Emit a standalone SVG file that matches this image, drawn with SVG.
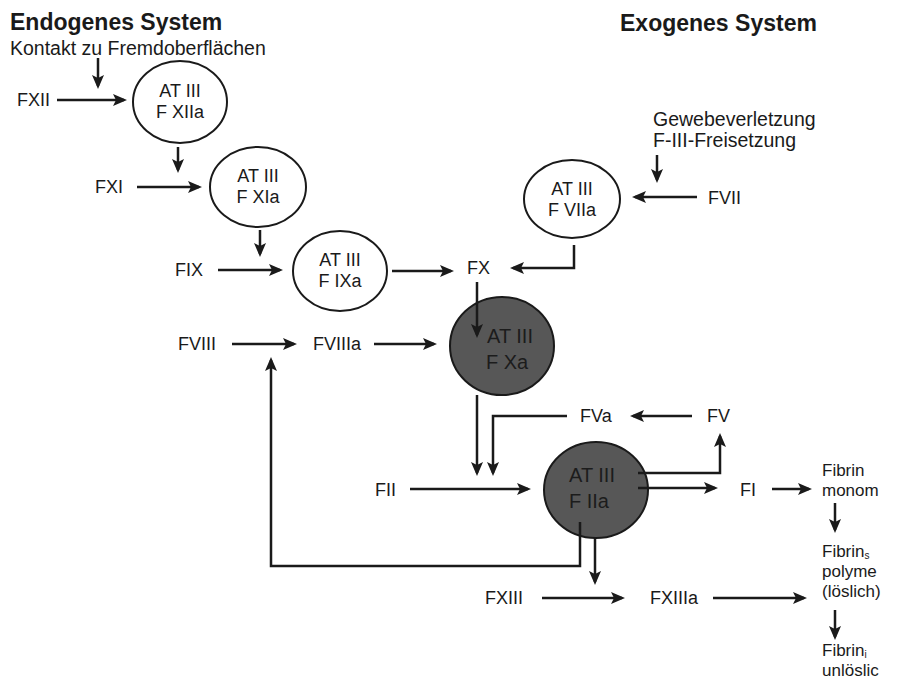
<svg xmlns="http://www.w3.org/2000/svg" width="897" height="689" viewBox="0 0 897 689">
<style>
text{font-family:"Liberation Sans",Arial,sans-serif;font-size:18px;fill:#1a1a1a}
.title{font-size:23px;font-weight:bold}
.sub{font-size:19.5px}
.fib{font-size:17px}
.c{text-anchor:middle}
.open{fill:#fff;stroke:#1a1a1a;stroke-width:2}
.dark{fill:#575757;stroke:#1a1a1a;stroke-width:2}
.dt{font-size:20px;fill:#1c1c1c;text-anchor:middle}
#connectors path{fill:none;stroke:#1a1a1a;stroke-width:2.5}
.arr{marker-end:url(#ah)}
</style>
<defs>
<marker id="ah" viewBox="0 0 14 12" refX="11" refY="6" markerWidth="14" markerHeight="12" markerUnits="userSpaceOnUse" orient="auto">
<path d="M0,0 L14,6 L0,12 L3,6 z" fill="#1a1a1a"/>
</marker>
</defs>
<rect width="897" height="689" fill="#fff"/>

<g id="headings">
<text class="title" x="10" y="30">Endogenes System</text>
<text class="sub" x="10" y="55">Kontakt zu Fremdoberflächen</text>
<text class="title" x="620" y="31">Exogenes System</text>
<text class="sub" x="653" y="126">Gewebeverletzung</text>
<text class="sub" x="653" y="147">F-III-Freisetzung</text>
</g>

<g id="FXII"><text x="17" y="106">FXII</text></g>
<g id="FXIIa"><ellipse class="open" cx="180" cy="102" rx="47" ry="41"/><text class="c" x="180" y="97">AT III</text><text class="c" x="180" y="118">F XIIa</text></g>
<g id="FXI"><text x="95" y="193">FXI</text></g>
<g id="FXIa"><ellipse class="open" cx="258" cy="187" rx="48" ry="40"/><text class="c" x="258" y="182">AT III</text><text class="c" x="258" y="203">F XIa</text></g>
<g id="FIX"><text x="175" y="276">FIX</text></g>
<g id="FIXa"><ellipse class="open" cx="340" cy="271" rx="47" ry="40"/><text class="c" x="340" y="266">AT III</text><text class="c" x="340" y="287">F IXa</text></g>
<g id="FX"><text x="467" y="274">FX</text></g>
<g id="FVII"><text x="708" y="204">FVII</text></g>
<g id="FVIIa"><ellipse class="open" cx="572" cy="199" rx="48" ry="39"/><text class="c" x="572" y="195">AT III</text><text class="c" x="572" y="216">F VIIa</text></g>
<g id="FVIII"><text x="178" y="350">FVIII</text></g>
<g id="FVIIIa"><text x="313" y="350">FVIIIa</text></g>
<g id="FXa"><ellipse class="dark" cx="502" cy="346" rx="52" ry="49"/><text class="dt" x="510" y="343">AT III</text><text class="dt" x="507" y="369">F Xa</text></g>
<g id="FVa"><text x="580" y="422">FVa</text></g>
<g id="FV"><text x="707" y="422">FV</text></g>
<g id="FII"><text x="375" y="496">FII</text></g>
<g id="FIIa"><ellipse class="dark" cx="596" cy="490" rx="52" ry="48"/><text class="dt" x="592" y="482">AT III</text><text class="dt" x="589" y="508">F IIa</text></g>
<g id="FI"><text x="740" y="496">FI</text></g>
<g id="FibrinMonomer"><text class="fib" x="822" y="476">Fibrin</text><text class="fib" x="822" y="496">monom</text></g>
<g id="FibrinS"><text class="fib" x="822" y="557">Fibrin<tspan font-size="10" dy="2">s</tspan></text><text class="fib" x="822" y="577">polyme</text><text class="fib" x="822" y="597">(löslich)</text></g>
<g id="FibrinI"><text class="fib" x="822" y="656">Fibrin<tspan font-size="10" dy="2">i</tspan></text><text class="fib" x="822" y="676">unlöslic</text></g>
<g id="FXIII"><text x="485" y="604">FXIII</text></g>
<g id="FXIIIa"><text x="650" y="604">FXIIIa</text></g>

<g id="connectors">
<path class="arr" d="M98 58 V86"/>
<path class="arr" d="M57 100 H124"/>
<path class="arr" d="M178 147 V170"/>
<path class="arr" d="M137 187 H199"/>
<path class="arr" d="M260 230 V254"/>
<path class="arr" d="M218 270 H280"/>
<path class="arr" d="M392 271 H451"/>
<path class="arr" d="M574 245 V268 H513"/>
<path class="arr" d="M657 155 V180"/>
<path class="arr" d="M697 197 H635"/>
<path class="arr" d="M477 282 V335"/>
<path class="arr" d="M232 344 H294"/>
<path class="arr" d="M374 344 H434"/>
<path class="arr" d="M477 395 V473"/>
<path class="arr" d="M567 416 H493 V473"/>
<path class="arr" d="M692 416 H633"/>
<path class="arr" d="M410 489 H528"/>
<path class="arr" d="M638 473 H720 V436"/>
<path class="arr" d="M638 488 H715"/>
<path class="arr" d="M772 489 H809"/>
<path class="arr" d="M835 503 V530"/>
<path class="arr" d="M835 610 V637"/>
<path class="arr" d="M595 537 V582"/>
<path class="arr" d="M580 522 V566 H271 V360"/>
<path class="arr" d="M542 598 H622"/>
<path class="arr" d="M713 598 H804"/>
</g>
</svg>
